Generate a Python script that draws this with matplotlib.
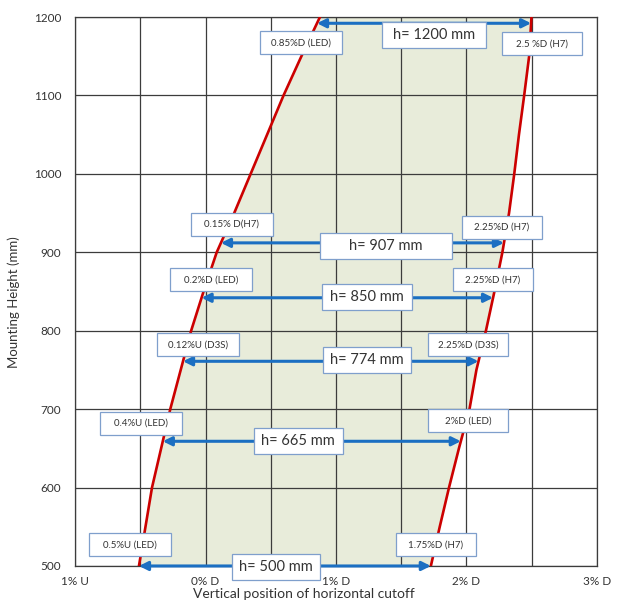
import numpy as np
import matplotlib
matplotlib.use("Agg")
import matplotlib.pyplot as plt
from matplotlib.patches import Rectangle

plt.rcParams["font.family"] = ["Lato", "DejaVu Sans"]

# boundary curves (x in %, negative = U)
heights = [500, 550, 600, 650, 700, 750, 800, 850, 900, 950, 1000, 1050, 1100, 1150, 1200]
left_edge = [-0.51, -0.46, -0.41, -0.34, -0.27, -0.19, -0.11, -0.015, 0.086,
             0.22, 0.346, 0.472, 0.598, 0.735, 0.877]
right_edge = [1.727, 1.795, 1.866, 1.942, 2.023, 2.076, 2.149, 2.214, 2.275,
              2.326, 2.366, 2.402, 2.442, 2.48, 2.498]

# measured mounting heights
h_values = [500, 665, 774, 850, 907, 1200]
h_labels = ["h= 500 mm", "h= 665 mm", "h= 774 mm", "h= 850 mm", "h= 907 mm", "h= 1200 mm"]
arrow_y = [500, 659, 761, 842, 912, 1192]

left_labels = ["0.5%U (LED)", "0.4%U (LED)", "0.12%U (D3S)", "0.2%D (LED)", "0.15% D(H7)", "0.85%D (LED)"]
right_labels = ["1.75%D (H7)", "2%D (LED)", "2.25%D (D3S)", "2.25%D (H7)", "2.25%D (H7)", "2.5 %D (H7)"]

x_ticks = [-1, 0, 1, 2, 3]
x_ticklabels = ["1% U", "0% D", "1% D", "2% D", "3% D"]
y_ticks = [500, 600, 700, 800, 900, 1000, 1100, 1200]

fig = plt.figure(figsize=(6.4, 6.03), dpi=100)
ax = fig.add_axes([0.1172, 0.0614, 0.8156, 0.9104])
ax.set_xlim(-1, 3)
ax.set_ylim(500, 1200)

ax.fill_betweenx(heights, left_edge, right_edge, color="#e8ecda", zorder=1, lw=0)
ax.plot(left_edge, heights, color="#cc0000", lw=1.9, zorder=3)
ax.plot(right_edge, heights, color="#cc0000", lw=1.9, zorder=3)

ax.set_xticks(x_ticks)
ax.set_xticklabels(x_ticklabels)
ax.set_xticks(np.arange(-0.5, 3, 1.0), minor=True)
ax.set_yticks(y_ticks)
ax.grid(True, which="both", color="#3c3c3c", lw=0.9)
ax.set_axisbelow(False)
ax.tick_params(which="both", length=0, labelsize=8.5, labelcolor="#333333")
ax.tick_params(axis="x", pad=7)
ax.tick_params(axis="y", pad=10)
for s in ax.spines.values():
    s.set_color("#3c3c3c")
    s.set_linewidth(0.9)

ax.set_ylabel("Mounting Height (mm)", fontsize=9.5, color="#333333")
ax.yaxis.set_label_coords(-0.105, 0.48)
ax.set_xlabel("Vertical position of horizontal cutoff", fontsize=10, color="#333333")
ax.xaxis.set_label_coords(0.439, -0.04)

blue = "#1b6fc2"
for y in arrow_y:
    xl = np.interp(y, heights, left_edge)
    xr = np.interp(y, heights, right_edge)
    ax.annotate("", xy=(xl, y), xytext=(xr, y),
                arrowprops=dict(arrowstyle="<|-|>", color=blue, lw=2.2,
                                mutation_scale=13, shrinkA=0, shrinkB=0),
                zorder=4, annotation_clip=False)


def label_box(x, y, text, w_px, h_px, size):
    w = w_px / 130.5
    h = h_px / 0.7843
    ax.add_patch(Rectangle((x - w / 2, y - h / 2), w, h, facecolor="white",
                           edgecolor="#7f9fcc", lw=0.9, zorder=5, clip_on=False))
    ax.text(x, y, text, ha="center", va="center", fontsize=size,
            color="#333333", zorder=6, clip_on=False)


# small boxes next to the curves
left_pos = [(-0.579, 526.8), (-0.494, 682.3), (-0.057, 781.8),
            (0.042, 864.7), (0.203, 936.0), (0.732, 1167.0)]
right_pos = [(1.766, 526.8), (2.011, 684.9), (2.011, 781.8),
             (2.203, 864.7), (2.272, 932.2), (2.579, 1165.6)]
for (x, y), t in zip(left_pos, left_labels):
    label_box(x, y, t, 82, 23, 7)
for (x, y), t in zip(right_pos, right_labels):
    label_box(x, y, t, 80, 23, 7)

# height boxes on the arrows
mid_pos = [(0.540, 498.7, 88), (0.709, 659.4, 89), (1.238, 762.7, 88),
           (1.238, 843.0, 90), (1.383, 908.0, 132), (1.751, 1177.0, 104)]
for (x, y, w), t in zip(mid_pos, h_labels):
    label_box(x, y, t, w, 26, 10.5)

fig.savefig("out.png", dpi=100)
